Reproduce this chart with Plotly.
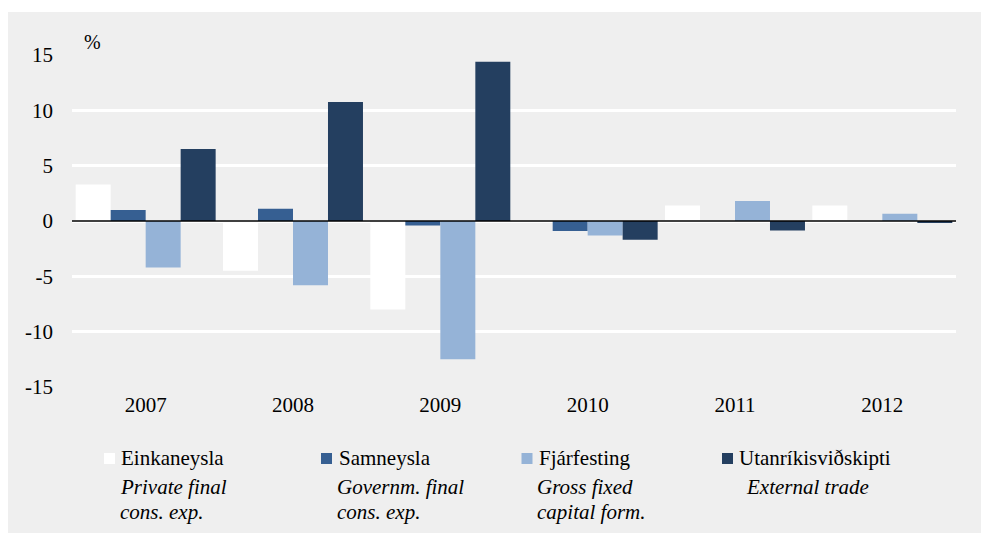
import plotly.graph_objects as go

years = ["2007", "2008", "2009", "2010", "2011", "2012"]
einkaneysla = [3.3, -4.5, -8.0, 0.0, 1.4, 1.4]
samneysla = [1.0, 1.1, -0.4, -0.9, 0.0, 0.0]
fjarfesting = [-4.2, -5.8, -12.5, -1.3, 1.8, 0.65]
utanrikis = [6.5, 10.75, 14.4, -1.7, -0.85, -0.15]

series_names = ["Einkaneysla", "Samneysla", "Fjárfesting", "Utanríkisviðskipti"]
series_sub = [["Private final", "cons. exp."], ["Governm. final", "cons. exp."],
              ["Gross fixed", "capital form."], ["External trade"]]
series_vals = [einkaneysla, samneysla, fjarfesting, utanrikis]
colors = ["#ffffff", "#365f92", "#95b3d7", "#243f60"]

y_tickvals = [15, 10, 5, 0, -5, -10, -15]
y_ticktext = ["15", "10", "5", "0", "-5", "-10", "-15"]

FONT = "Liberation Serif, Times New Roman, serif"
W, H = 981, 533
# plot area in screen pixels: x 72..956, y 55..387
L, R, T, B = 72, W - 956, 55, H - 387
PW, PH = W - L - R, H - T - B

def px(x):
    return (x - L) / PW

def py(y):
    return (H - B - y) / PH

fig = go.Figure()
for name, vals, col in zip(series_names, series_vals, colors):
    fig.add_trace(go.Bar(x=years, y=vals, name=name, marker_color=col,
                         marker_line_width=0, showlegend=False))

shapes = [
    dict(type="rect", xref="paper", yref="paper", x0=px(8), x1=px(W + 10),
         y0=py(H + 10), y1=py(12), fillcolor="#efefef", line_width=0, layer="below"),
    dict(type="line", xref="paper", yref="y", x0=0, x1=1, y0=0, y1=0,
         line=dict(color="black", width=1.6), layer="above"),
]

annotations = [
    dict(text="%", xref="paper", yref="paper", x=px(82), y=py(42), xanchor="left",
         yanchor="middle", showarrow=False, font=dict(family=FONT, size=20, color="black")),
]

sq_x = [104, 321, 521.5, 722]
name_x = [119, 336.5, 536.5, 737]
sub_x = [118, 335, 535, 744]
for i in range(4):
    shapes.append(dict(type="rect", xref="paper", yref="paper", x0=px(sq_x[i]), x1=px(sq_x[i] + 11),
                       y0=py(464), y1=py(453), fillcolor=colors[i], line_width=0))
    annotations.append(dict(text=series_names[i], xref="paper", yref="paper", x=px(name_x[i]), y=py(458),
                            xanchor="left", yanchor="middle", showarrow=False,
                            font=dict(family=FONT, size=21, color="black")))
    for j, s in enumerate(series_sub[i]):
        annotations.append(dict(text="<i>" + s + "</i>", xref="paper", yref="paper", x=px(sub_x[i]),
                                y=py(487 + 25 * j), xanchor="left", yanchor="middle", showarrow=False,
                                font=dict(family=FONT, size=21, color="black")))

fig.update_layout(
    width=W, height=H,
    margin=dict(l=L, r=R, t=T, b=B, pad=0),
    paper_bgcolor="white",
    plot_bgcolor="#dadada",
    barmode="group", bargap=0.05, bargroupgap=0,
    font=dict(family=FONT, size=21, color="black"),
    shapes=shapes,
    annotations=annotations,
    showlegend=False,
    xaxis=dict(showgrid=False, ticks="", showline=False, zeroline=False,
               tickfont=dict(family=FONT, size=21, color="black"), ticklabelstandoff=3),
    yaxis=dict(range=[-15, 15], tickvals=y_tickvals, ticktext=y_ticktext,
               showgrid=True, gridcolor="white", gridwidth=2.5, zeroline=False,
               showline=False, ticks="", ticklabelstandoff=18,
               tickfont=dict(family=FONT, size=21, color="black")),
)

fig.write_html("out.html", config={"displayModeBar": False},
               post_script="document.body.style.margin='0';document.body.style.overflow='hidden';")
